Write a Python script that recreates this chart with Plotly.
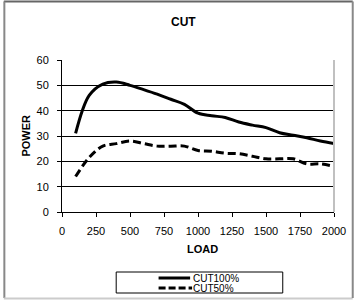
import plotly.graph_objects as go

load = [100, 200, 300, 400, 500, 600, 700, 800, 900, 1000,
        1100, 1200, 1300, 1400, 1500, 1600, 1700, 1800, 1900, 2000]
cut100 = [31, 46, 50.5, 51.3, 50, 48.3, 46.5, 44.5, 42.5, 39,
          38, 37.3, 35.5, 34.3, 33.3, 31.3, 30.3, 29.3, 28, 27]
cut50 = [14, 21.5, 26, 27, 28, 27, 26, 26, 26, 24.3,
         24, 23.2, 23, 22, 21, 21, 21, 19, 19, 18]
x_ticks = [0, 250, 500, 750, 1000, 1250, 1500, 1750, 2000]
y_ticks = [0, 10, 20, 30, 40, 50, 60]

W, H = 358, 300
L, R, T, B = 62, 20, 60, 88
PW, PH = W - L - R, H - T - B


def px(x):
    return (x - L) / PW


def py(y):
    return (H - B - y) / PH


FONT = "Liberation Sans, Arial, sans-serif"

fig = go.Figure()
fig.add_trace(go.Scatter(x=load, y=cut100, mode="lines", name="CUT100%",
                         line=dict(color="black", width=3, shape="spline", smoothing=1)))
fig.add_trace(go.Scatter(x=load, y=cut50, mode="lines", name="CUT50%",
                         line=dict(color="black", width=3, shape="spline", smoothing=1,
                                   dash="8px,4px")))

shapes = []
# outer frame
shapes.append(dict(type="line", xref="paper", yref="paper", x0=px(3), x1=px(357), y0=py(1.5), y1=py(1.5),
                   line=dict(color="#666", width=2)))
shapes.append(dict(type="line", xref="paper", yref="paper", x0=px(3.5), x1=px(3.5), y0=py(1.5), y1=py(298),
                   line=dict(color="#888", width=2)))
shapes.append(dict(type="line", xref="paper", yref="paper", x0=px(3), x1=px(357), y0=py(298.5), y1=py(298.5),
                   line=dict(color="#ccc", width=2)))
shapes.append(dict(type="line", xref="paper", yref="paper", x0=px(357), x1=px(357), y0=py(1.5), y1=py(298),
                   line=dict(color="#888", width=2)))
# plot area right border
shapes.append(dict(type="line", xref="paper", yref="paper", x0=1, x1=1, y0=0, y1=1,
                   line=dict(color="#c0c0c0", width=2)))
# legend box
shapes.append(dict(type="rect", xref="paper", yref="paper", x0=px(117), x1=px(286), y0=py(272), y1=py(293),
                   line=dict(color="black", width=1), fillcolor="white"))
shapes.append(dict(type="line", xref="paper", yref="paper", x0=px(160), x1=px(192), y0=py(278), y1=py(278),
                   line=dict(color="black", width=3)))
shapes.append(dict(type="line", xref="paper", yref="paper", x0=px(160), x1=px(194), y0=py(288), y1=py(288),
                   line=dict(color="black", width=3, dash="7px,3px")))


def ann(text, x, y, size, angle=0, xanchor="center"):
    return dict(text=text, xref="paper", yref="paper", x=px(x), y=py(y), showarrow=False,
                xanchor=xanchor, yanchor="middle", textangle=angle,
                font=dict(size=size, color="black", family=FONT))


annotations = [
    ann("<b>CUT</b>", 185, 22, 12),
    ann("<b>LOAD</b>", 205, 249, 11),
    ann("<b>POWER</b>", 25, 136, 11, angle=-90),
    ann("CUT100%", 193, 278, 10, xanchor="left"),
    ann("CUT50%", 193, 288, 10, xanchor="left"),
]

fig.update_layout(
    width=W, height=H, margin=dict(l=L, r=R, t=T, b=B),
    paper_bgcolor="white", plot_bgcolor="white",
    showlegend=False,
    font=dict(family=FONT, size=11, color="black"),
    shapes=shapes, annotations=annotations,
    xaxis=dict(range=[0, 2000], tickvals=x_ticks, ticktext=[str(v) for v in x_ticks],
               showgrid=False, zeroline=False, showline=True, linecolor="black", linewidth=1,
               ticks="outside", ticklen=4, tickcolor="black", ticklabelstandoff=5),
    yaxis=dict(range=[0, 60], tickvals=y_ticks, ticktext=[str(v) for v in y_ticks],
               showgrid=True, gridcolor="black", gridwidth=1, zeroline=False,
               showline=True, linecolor="black", linewidth=1,
               ticks="outside", ticklen=4, tickcolor="black", ticklabelstandoff=6),
)

fig.write_html("out.html", config={"displayModeBar": False},
               post_script="document.body.style.margin='0';document.body.style.overflow='hidden';")
